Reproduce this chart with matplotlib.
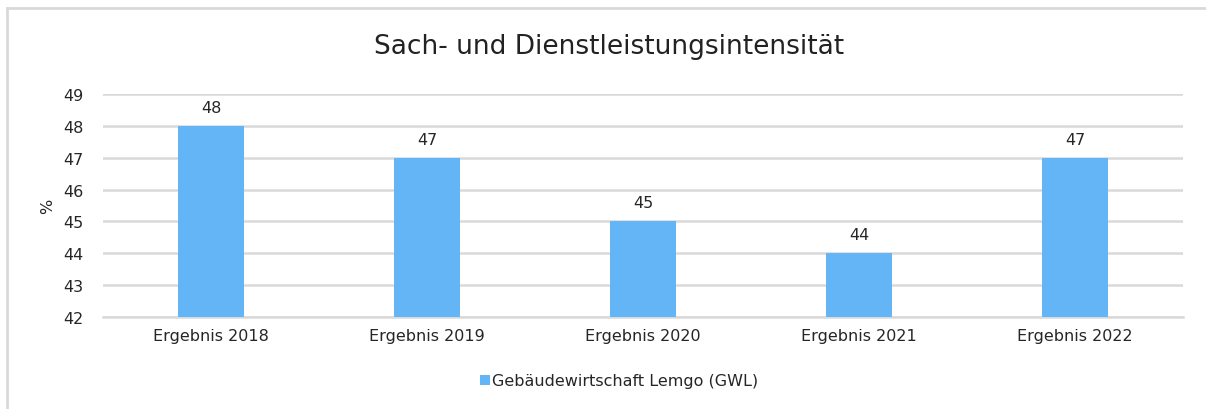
import matplotlib.pyplot as plt
from matplotlib.lines import Line2D

categories = ['Ergebnis 2018', 'Ergebnis 2019', 'Ergebnis 2020', 'Ergebnis 2021', 'Ergebnis 2022']
values = [48, 47, 45, 44, 47]
series_name = 'Gebäudewirtschaft Lemgo (GWL)'
yticks = [42, 43, 44, 45, 46, 47, 48, 49]

bar_color = '#64b5f6'
grid_color = '#d9d9d9'
text_color = '#262626'

fig = plt.figure(figsize=(12.06, 4.1), dpi=100)
# chart frame: only top and left edges are visible
top_y = 1 - 9 / 410
left_x = 7 / 1206
fig.lines.append(Line2D([left_x, 1], [top_y, top_y], transform=fig.transFigure, color='#d9d9d9', linewidth=2))
fig.lines.append(Line2D([left_x, left_x], [0, top_y], transform=fig.transFigure, color='#d9d9d9', linewidth=2))

ax = fig.add_axes([103 / 1206, 1 - 318 / 410, 1080 / 1206, 223 / 410])

x = range(len(categories))
bars = ax.bar(x, values, width=0.31, color=bar_color, zorder=3, label=series_name)
for xi, v in zip(x, values):
    ax.text(xi, v + 0.35, str(v), ha='center', va='bottom', fontsize=11.5, color=text_color)

ax.set_xlim(-0.5, len(categories) - 0.5)
ax.set_ylim(42, 49)
ax.set_yticks(yticks)
ax.set_xticks(list(x))
ax.set_xticklabels(categories)
ax.tick_params(axis='both', length=0, labelsize=11.5, labelcolor=text_color)
ax.tick_params(axis='y', pad=14)
ax.tick_params(axis='x', pad=8)
ax.grid(axis='y', color=grid_color, linewidth=1.8, zorder=0)
for s in ['top', 'right', 'left']:
    ax.spines[s].set_visible(False)
ax.spines['bottom'].set_color(grid_color)
ax.spines['bottom'].set_linewidth(1.8)
ax.set_ylabel('%', fontsize=11.5, color=text_color, labelpad=6)

fig.text(609 / 1206, 1 - 47 / 410, 'Sach- und Dienstleistungsintensität', ha='center', va='center',
         fontsize=19, color='#222222')
fig.legend(handles=[bars], labels=[series_name], loc='center', bbox_to_anchor=(619 / 1206, 1 - 382 / 410),
           frameon=False, fontsize=11.5, handlelength=0.6, handleheight=0.6, handletextpad=0.15,
           labelcolor=text_color)

fig.savefig('out.png', dpi=100)
